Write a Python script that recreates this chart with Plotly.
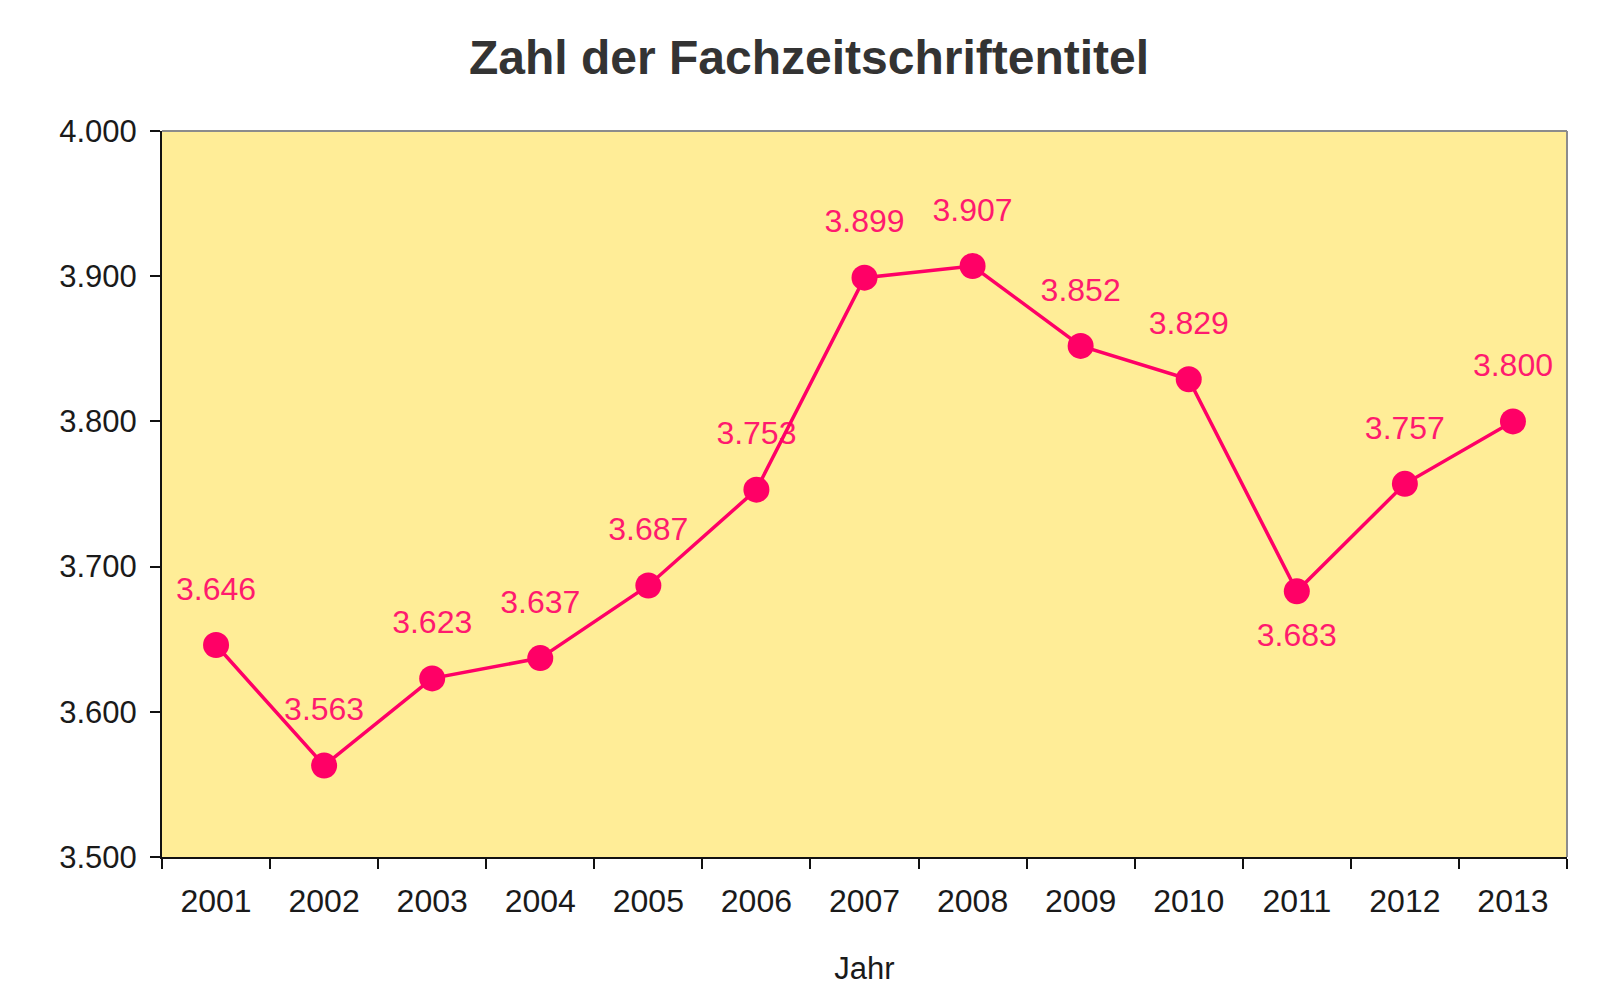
import plotly.graph_objects as go

years = ["2001", "2002", "2003", "2004", "2005", "2006", "2007",
         "2008", "2009", "2010", "2011", "2012", "2013"]
titles = [3646, 3563, 3623, 3637, 3687, 3753, 3899,
          3907, 3852, 3829, 3683, 3757, 3800]
label_pos = ["top center"] * 10 + ["bottom center"] + ["top center"] * 2
label_gap = [58] * 10 + [48] + [58] * 2
y_ticks = [3500, 3600, 3700, 3800, 3900, 4000]

PINK = "#FF0066"
FONT = "Liberation Sans, Arial, sans-serif"

W, H = 1612, 979  # page body has an 8px margin

fig = go.Figure()

# value labels (drawn first so the line passes over them)
fig.add_trace(go.Scatter(
    x=years, y=titles, mode="markers+text",
    text=[f"{v/1000:.3f}" for v in titles],
    textposition=label_pos,
    textfont=dict(family=FONT, size=32, color="#FF1A6E"),
    marker=dict(size=label_gap, opacity=0),
    hoverinfo="skip", showlegend=False, cliponaxis=False,
))

fig.add_trace(go.Scatter(
    x=years, y=titles, mode="lines+markers",
    line=dict(color=PINK, width=3.5),
    marker=dict(color=PINK, size=26),
    showlegend=False,
))

fig.update_layout(
    width=W, height=H,
    paper_bgcolor="white", plot_bgcolor="#FFED97",
    margin=dict(l=154, r=53, t=123, b=130, autoexpand=False),
    separators=",.",
    font=dict(family=FONT, color="#1a1a1a"),
    title=dict(text="<b>Zahl der Fachzeitschriftentitel</b>",
               x=801 / W, xref="container", xanchor="center",
               y=1 - 49 / H, yref="container", yanchor="middle",
               font=dict(family=FONT, size=48, color="#333333")),
    xaxis=dict(
        type="category", tickson="boundaries", automargin=False,
        range=[-0.5, len(years) - 0.5],
        showline=True, linecolor="#111111", linewidth=2,
        ticks="outside", ticklen=10, tickwidth=2, tickcolor="#111111",
        tickfont=dict(size=32, color="#1a1a1a"),
        ticklabelstandoff=15,
        showgrid=False, zeroline=False,
        title=dict(text="Jahr", font=dict(size=31, color="#1a1a1a"), standoff=39),
    ),
    yaxis=dict(
        range=[3500, 4000], tickvals=y_ticks, tickformat=",d", automargin=False,
        showline=True, linecolor="#111111", linewidth=2,
        ticks="outside", ticklen=10, tickwidth=2, tickcolor="#111111",
        tickfont=dict(size=31, color="#1a1a1a"),
        ticklabelstandoff=7,
        showgrid=False, zeroline=False,
    ),
    shapes=[
        dict(type="line", xref="paper", yref="paper", x0=0, x1=1, y0=1, y1=1,
             line=dict(color="#8c8c8c", width=2)),
        dict(type="line", xref="paper", yref="paper", x0=1, x1=1, y0=0, y1=1,
             line=dict(color="#8c8c8c", width=2)),
    ],
)

fig.write_html("out.html")
